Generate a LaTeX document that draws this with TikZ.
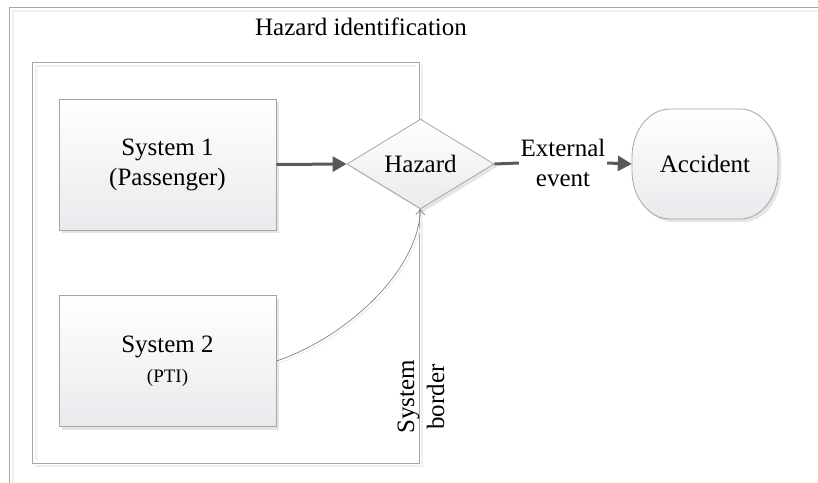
\documentclass[tikz,border=0pt]{standalone}
\usepackage{fontspec}
\setmainfont{Liberation Serif}
\usetikzlibrary{shapes.geometric,arrows.meta,shadows}
\definecolor{edge}{HTML}{A6A6A6}
\definecolor{faint}{HTML}{EFEFEF}
\definecolor{arr}{HTML}{595959}
\definecolor{fillb}{HTML}{EAEAEE}
\begin{document}
\begin{tikzpicture}[x=1pt,y=-1pt,
  txt/.style={font=\fontsize{25}{30}\selectfont, text=black},
  shade box/.style={draw=edge, line width=0.8pt, top color=white, bottom color=fillb,
    drop shadow={shadow xshift=3pt, shadow yshift=-3pt, fill=black!10, opacity=1}},
  sysbox/.style={shade box, rectangle, minimum width=217pt, minimum height=131pt, align=center, txt},
  arrowline/.style={draw=arr, line width=3pt, -{Triangle[length=14pt,width=15pt]}},
  plainline/.style={draw=arr, line width=3pt}
]
\useasboundingbox (0,0) rectangle (818,482);
% outer frame
\draw[faint, line width=1.2pt] (13,486) -- (13,11) -- (822,11);
\draw[edge, line width=1pt] (9,486) -- (9,7) -- (822,7);
% inner frame (system border)
\draw[faint, line width=1.2pt] (36,460) -- (36,66) -- (416,66);
\draw[faint, line width=1.2pt] (35,466) -- (422,466) -- (422,65);
\draw[edge, line width=1pt] (32,62) rectangle (419,463);

\node[txt] (title) at (361,27) {Hazard identification};

\node[sysbox] (s1) at (167.5,164.5) {System 1\\(Passenger)};
\node[sysbox] (s2) at (167.5,361) {System 2\\{\fontsize{19}{24}\selectfont (PTI)}};

\node[shade box, diamond, minimum width=147pt, minimum height=88pt, inner sep=0pt, txt] (hz) at (420.5,164) {Hazard};

% accident terminator shape
\path[shade box] (632,157) .. controls (632,130.6) and (649.1,109) .. (670,109)
  -- (740,109) .. controls (760.9,109) and (778,130.6) .. (778,157)
  -- (778,171) .. controls (778,197.4) and (760.9,219) .. (740,219)
  -- (670,219) .. controls (649.1,219) and (632,197.4) .. (632,171) -- cycle;
\node[rectangle, minimum width=146pt, minimum height=110pt, txt] (acc) at (705,164) {Accident};

\node[txt, align=center, inner sep=0pt, minimum width=88pt] (ext) at (563,163) {External\\event};

\node[txt, rotate=90, align=center, inner sep=0pt] (border) at (421,397) {System\\border};

\draw[arrowline] (s1.east) -- (hz.west);
\draw[plainline] (hz.east) -- (ext.west);
\draw[arrowline] (ext.east) -- (acc.west);

\draw[faint, line width=1.2pt, transform canvas={xshift=2pt,yshift=-2pt}] (s2.east) .. controls (345,338) and (418,272) .. (hz.south);
\draw[draw=black!55, line width=0.6pt, -{Straight Barb[length=5pt,width=9pt]}] (s2.east) .. controls (345,338) and (418,272) .. (hz.south);
\end{tikzpicture}
\end{document}
